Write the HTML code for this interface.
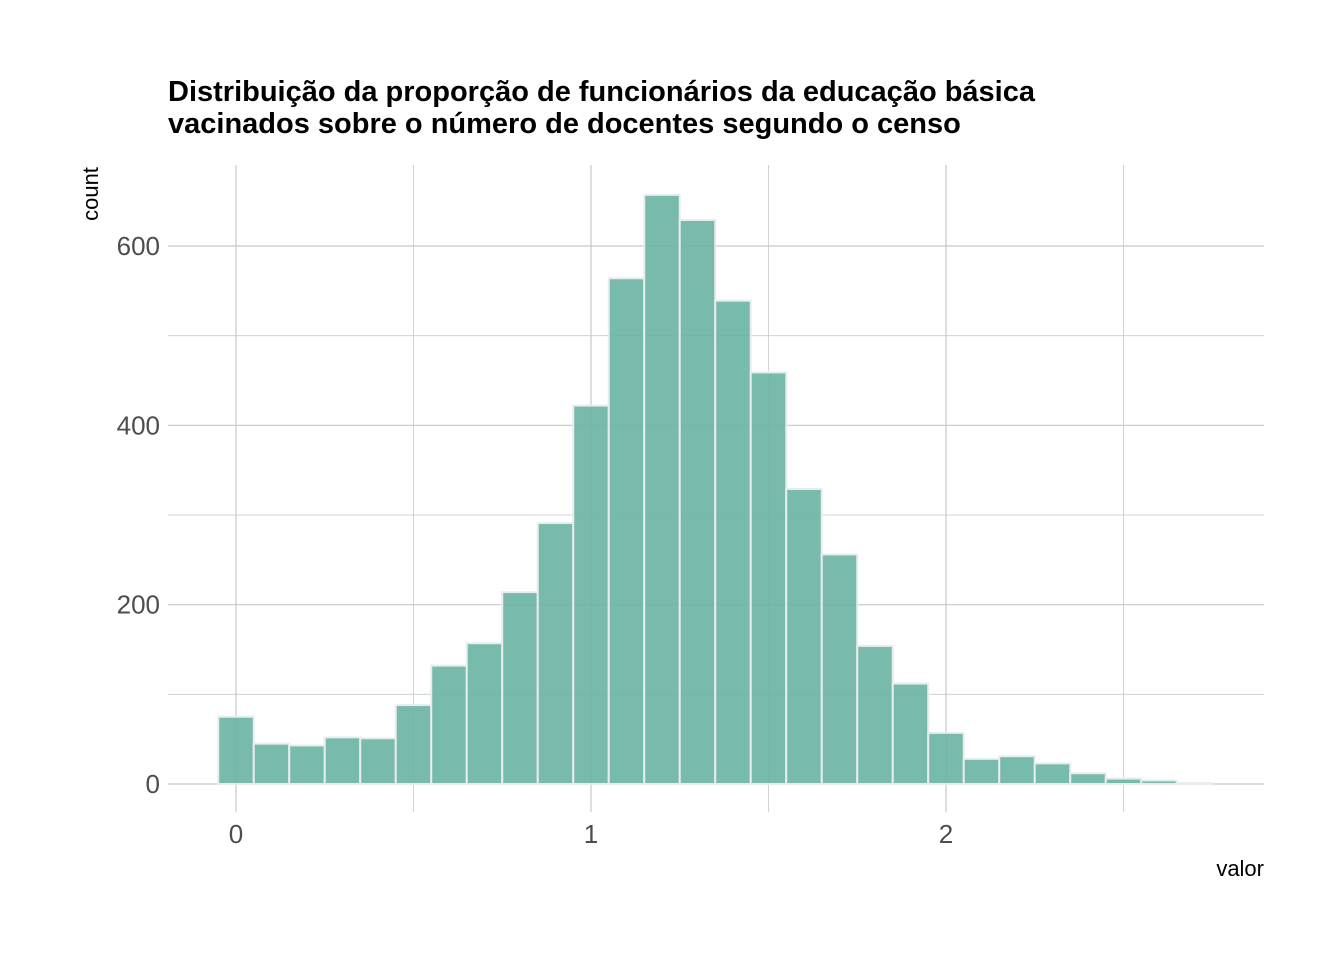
<!DOCTYPE html>
<html><head><meta charset="utf-8"><style>
body{margin:0;background:#fff;}
svg text{font-family:"Liberation Sans",Arial,sans-serif;}
</style></head><body>
<svg id="chart" width="1344" height="960" xmlns="http://www.w3.org/2000/svg">
<g id="grid"></g>
<g id="bars"></g>
<g id="ticks"></g>
<text x="168" y="101" font-size="29" font-weight="bold" fill="#000">Distribuição da proporção de funcionários da educação básica</text>
<text x="168" y="133" font-size="29" font-weight="bold" fill="#000">vacinados sobre o número de docentes segundo o censo</text>
<text x="1264" y="876" font-size="22" text-anchor="end" fill="#000">valor</text>
<text transform="translate(98,194) rotate(-90)" font-size="22" text-anchor="middle" fill="#000">count</text>
</svg>
<script>
var binCenters=[0,0.1,0.2,0.3,0.4,0.5,0.6,0.7,0.8,0.9,1.0,1.1,1.2,1.3,1.4,1.5,1.6,1.7,1.8,1.9,2.0,2.1,2.2,2.3,2.4,2.5,2.6,2.7];
var counts=[75,45,43,52,51,88,132,157,214,291,422,564,657,629,539,459,329,256,154,112,57,28,31,23,12,6,4,1];
var yTicks=[0,200,400,600];
var xTicks=[0,1,2];
var binWidth=0.1;
var NS="http://www.w3.org/2000/svg";
var PL=168,PR=1264,PT=165,PB=800;
function xs(v){return 236+v*355;}
function ys(v){return 784-v*(538/600);}
function mk(t,a,p){var e=document.createElementNS(NS,t);for(var k in a)e.setAttribute(k,a[k]);p.appendChild(e);return e;}
var grid=document.getElementById('grid'),bars=document.getElementById('bars'),ticks=document.getElementById('ticks');
for(var v=0;v<=700;v+=100){var y=ys(v);if(y<PT)continue;
 var l=mk('line',{x1:PL,x2:PR,y1:y,y2:y,stroke:'#c8c8c8','stroke-width':v%200==0?1.2:0.8},grid);
 
 }
for(var w=0;w<=2.5;w+=0.5){var x=xs(w);
 var g=mk('line',{x1:x,x2:x,y1:PT,y2:PB+12,stroke:'#c8c8c8','stroke-width':Number.isInteger(w)?1.2:0.8},grid);
 
 }
binCenters.forEach(function(c,i){var x0=xs(c-binWidth/2),x1=xs(c+binWidth/2),yy=ys(counts[i]);
 var r=mk('rect',{x:x0,y:yy,width:x1-x0,height:ys(0)-yy,fill:'#69b3a2','fill-opacity':0.9,stroke:'#e9ecef','stroke-width':2},bars);
 
 });
yTicks.forEach(function(t0){var t=mk('text',{x:160,y:ys(t0)+9,'font-size':26,'text-anchor':'end',fill:'#4d4d4d'},ticks);t.textContent=t0;
 
 });
xTicks.forEach(function(t0){var t=mk('text',{x:xs(t0),y:843,'font-size':26,'text-anchor':'middle',fill:'#4d4d4d'},ticks);t.textContent=t0;
 
 });
</script>
</body></html>
